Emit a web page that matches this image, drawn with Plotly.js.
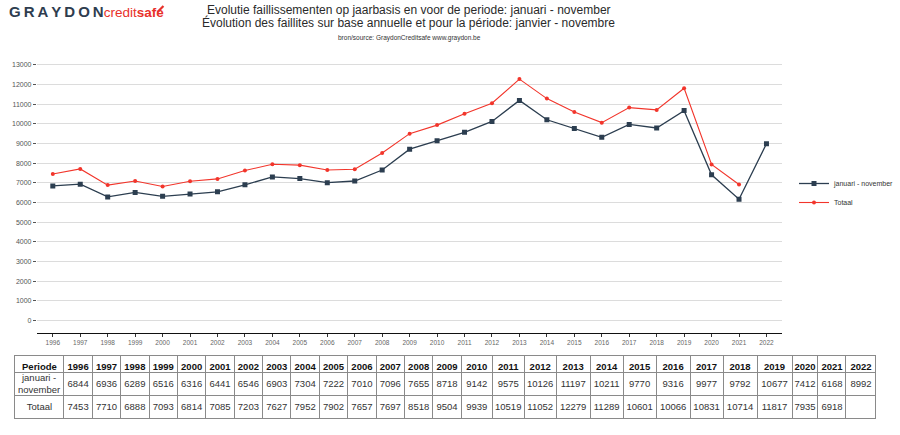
<!DOCTYPE html>
<html>
<head>
<meta charset="utf-8">
<script src="https://cdn.plot.ly/plotly-3.0.1.min.js"></script>
<style>html,body{margin:0;padding:0;background:#fff;}#chart{width:900px;height:435px;}</style>
</head>
<body>
<div id="chart"></div>
<script>
const years = [1996,1997,1998,1999,2000,2001,2002,2003,2004,2005,2006,2007,2008,2009,2010,2011,2012,2013,2014,2015,2016,2017,2018,2019,2020,2021,2022];
const janNov = [6844,6936,6289,6516,6316,6441,6546,6903,7304,7222,7010,7096,7655,8718,9142,9575,10126,11197,10211,9770,9316,9977,9792,10677,7412,6168,8992];
const totaal = [7453,7710,6888,7093,6814,7085,7203,7627,7952,7902,7657,7697,8518,9504,9939,10519,11052,12279,11289,10601,10066,10831,10714,11817,7935,6918,null];
const seriesNames = ["januari - november", "Totaal"];
const rowLabels = ["januari -<br>november", "Totaal"];
const headerLabel = "Periode";
const yTicks = [0,1000,2000,3000,4000,5000,6000,7000,8000,9000,10000,11000,12000,13000];

const W = 900, H = 435;
const px = v => v / W, py = v => 1 - v / H;

const lineNav = {
  x: years, y: janNov, name: seriesNames[0], type: 'scatter', mode: 'lines+markers',
  line: {color: '#2c3e50', width: 1.3},
  marker: {symbol: 'square', size: 5, color: '#2c3e50'},
  xaxis: 'x', yaxis: 'y'
};
const lineRed = {
  x: years, y: totaal, name: seriesNames[1], type: 'scatter', mode: 'lines+markers',
  line: {color: '#f2352b', width: 1.1},
  marker: {symbol: 'circle', size: 4, color: '#f2352b'},
  xaxis: 'x', yaxis: 'y'
};

// table columns (first-column two-line label is overlaid as an annotation)
const headerVals = [headerLabel].concat(years.map(String));
const cellVals = [['', rowLabels[1]]].concat(years.map((y, i) => [String(janNov[i]), totaal[i] == null ? '' : String(totaal[i])]));
const colW = [49].concat(years.map((y, i) => {
  if (y <= 2009) return 28.4;
  const w = {2010:31,2011:32,2012:32,2013:34,2014:33,2015:33,2016:34,2017:33,2018:34,2019:35,2020:26,2021:28,2022:30};
  return w[y];
}));

const tblTop = 355, hdrH = 17, rowH = 23;
const table = {
  type: 'table',
  domain: {x: [px(15), px(879)], y: [py(tblTop + hdrH + 2 * rowH + 2), py(tblTop)]},
  columnwidth: colW,
  header: {
    values: headerVals,
    align: 'center',
    height: hdrH,
    line: {color: '#8a8a8a', width: 1},
    fill: {color: '#ffffff'},
    font: {family: 'Liberation Sans, Arial, sans-serif', size: 9.5, color: '#111', weight: 'bold'}
  },
  cells: {
    values: cellVals,
    align: 'center',
    height: rowH,
    line: {color: '#8a8a8a', width: 1},
    fill: {color: '#ffffff'},
    font: {family: 'Liberation Sans, Arial, sans-serif', size: 9.5, color: '#333'}
  }
};

const layout = {
  width: W, height: H,
  margin: {l: 0, r: 0, t: 0, b: 0},
  paper_bgcolor: '#fff', plot_bgcolor: '#fff',
  showlegend: true,
  font: {family: 'Liberation Sans, Arial, sans-serif', color: '#555'},
  xaxis: {
    domain: [px(37), px(785)],
    range: [1995.42, 2022.58],
    tickvals: years, ticktext: years.map(String),
    showgrid: false, zeroline: false,
    showline: true, linecolor: '#111', linewidth: 1.5,
    ticks: 'outside', ticklen: 3, tickcolor: '#333', tickwidth: 1,
    tickfont: {size: 6.5, color: '#666'},
    fixedrange: true
  },
  yaxis: {
    domain: [py(332.5), py(62)],
    range: [-610, 13150],
    tickvals: yTicks, tickformat: 'd',
    showgrid: true, gridcolor: '#dcdcdc', gridwidth: 1,
    zeroline: false, showline: false,
    ticks: 'outside', ticklen: 3, tickcolor: '#555', tickwidth: 1,
    tickfont: {size: 7, color: '#555'},
    fixedrange: true
  },
  legend: {
    x: px(797), y: py(193), xanchor: 'left', yanchor: 'middle',
    font: {size: 7, color: '#333'},
    bgcolor: 'rgba(0,0,0,0)', itemwidth: 30
  },
  annotations: [
    {xref: 'paper', yref: 'paper', x: px(410), y: py(10), text: 'Evolutie faillissementen op jaarbasis en voor de periode: januari - november',
     showarrow: false, font: {size: 12, color: '#2a2a2a'}, xanchor: 'center', yanchor: 'middle'},
    {xref: 'paper', yref: 'paper', x: px(410), y: py(22.5), text: 'Évolution des faillites sur base annuelle et pour la période: janvier - novembre',
     showarrow: false, font: {size: 12, color: '#2a2a2a'}, xanchor: 'center', yanchor: 'middle'},
    {xref: 'paper', yref: 'paper', x: px(411), y: py(38), text: 'bron/source: GraydonCreditsafe www.graydon.be',
     showarrow: false, font: {size: 6.5, color: '#333'}, xanchor: 'center', yanchor: 'middle'},
    {xref: 'paper', yref: 'paper', x: px(7), y: py(11), xanchor: 'left', yanchor: 'middle', showarrow: false,
     text: '<b><span style="font-size:15px">G\u2009R\u2009A\u2009Y\u2009D\u2009O\u2009N</span></b><span style="color:#e8312a">credit<b>safe</b></span>',
     font: {family: 'Liberation Sans, sans-serif', size: 13.5, color: '#2e3d4f'}},
    {xref: 'paper', yref: 'paper', x: px(39), y: py(tblTop + hdrH + rowH / 2), xanchor: 'center', yanchor: 'middle', showarrow: false,
     text: rowLabels[0], align: 'center',
     font: {family: 'Liberation Sans, Arial, sans-serif', size: 9.5, color: '#333'}}
  ],
  shapes: [
    {type: 'line', xref: 'paper', yref: 'paper', x0: px(158), y0: py(12), x1: px(164), y1: py(6), line: {color: '#e8312a', width: 2.2}}
  ]
};

Plotly.newPlot('chart', [lineNav, lineRed, table], layout, {displayModeBar: false, staticPlot: true});
</script>
</body>
</html>
